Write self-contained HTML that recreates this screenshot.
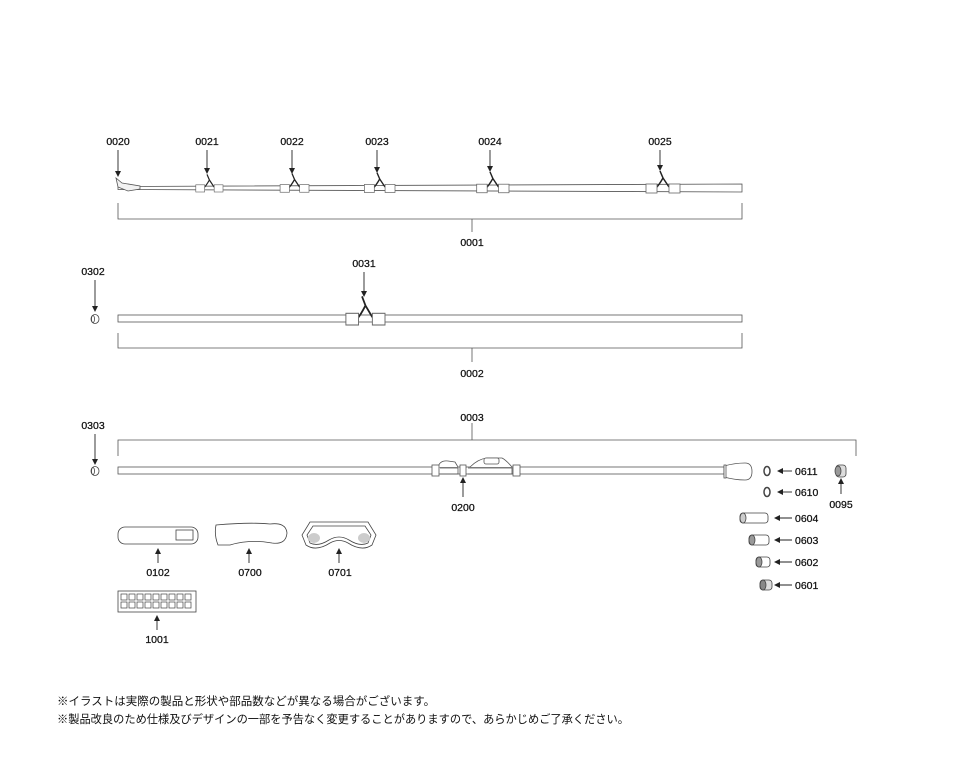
<!DOCTYPE html>
<html><head><meta charset="utf-8"><style>
html,body{margin:0;padding:0;background:#fff;}
svg{display:block;}
text{font-family:"Liberation Sans","Noto Sans CJK JP",sans-serif;fill:#111;}
.l{font-size:10.5px;text-anchor:middle;stroke:#111;stroke-width:0.25;}
.r{font-size:10.5px;stroke:#111;stroke-width:0.25;}
.j{font-size:11.5px;}
</style></head><body>
<svg width="963" height="781" viewBox="0 0 963 781" xmlns="http://www.w3.org/2000/svg">
<defs>
<marker id="ah" markerWidth="6" markerHeight="6" refX="5" refY="3" orient="auto" markerUnits="userSpaceOnUse">
<path d="M0,0 L6,3 L0,6 Z" fill="#222"/></marker>
<g id="guide">
<path d="M0,-17 L3,-10 Q-1,-3 -4,0 M3,-10 L9,-1" stroke="#222" stroke-width="1.5" fill="none"/>
<rect x="-14" y="-4" width="11" height="9" fill="#fff" stroke="#666" stroke-width="0.8"/>
<rect x="9" y="-4" width="11" height="9" fill="#fff" stroke="#666" stroke-width="0.8"/>
</g>
</defs>
<g stroke="#555" stroke-width="0.8" fill="none">
<path d="M118,186.5 L742,184 L742,192 L118,189.5 Z" fill="#fff"/>
<path d="M116,178 L118,187 L128,191 L140,189 L140,186 L122,183 Z" fill="#f2f2f2"/>
<path d="M118,203 V219 H742 V203 M472,219 V232"/>
<rect x="118" y="315" width="624" height="7" fill="#fff"/>
<path d="M118,333 V348 H742 V333 M472,348 V362"/>
<path d="M472,423 V440 M118,456 V440 H856 V456"/>
<rect x="118" y="467" width="606" height="7" fill="#fff"/>
<path d="M724,466 Q735,463 745,463 Q752,463 752,471.5 Q752,480 745,480 Q735,480 724,477 Z" fill="#fff"/>
<rect x="724" y="465" width="2" height="13" fill="#fff"/>
<path d="M438,467 Q440,460 448,461 L455,462 L458,467 M470,467 Q478,459 487,458 L502,458 Q506,460 512,467" fill="#fff"/>
<rect x="484" y="458" width="15" height="6" rx="2" fill="#fff"/>
<path d="M440,468 H458 V474 H440 M468,468 H512 V474 H468"/>
<rect x="432" y="465" width="7" height="11" fill="#fff"/>
<rect x="460" y="465" width="6" height="11" fill="#fff"/>
<rect x="513" y="465" width="7" height="11" fill="#fff"/>
</g>
<g stroke="#555" stroke-width="0.8">
<use href="#guide" transform="translate(207,188) scale(0.8)"/>
<use href="#guide" transform="translate(292,188) scale(0.85)"/>
<use href="#guide" transform="translate(377,188) scale(0.9)"/>
<use href="#guide" transform="translate(490,188) scale(0.95)"/>
<use href="#guide" transform="translate(660,188)"/>
<use href="#guide" transform="translate(362,318.5) scale(1.15,1.3)"/>
</g>
<g stroke="#222" stroke-width="0.9" marker-end="url(#ah)">
<line x1="118" y1="150" x2="118" y2="176"/>
<line x1="207" y1="150" x2="207" y2="173"/>
<line x1="292" y1="150" x2="292" y2="173"/>
<line x1="377" y1="150" x2="377" y2="172"/>
<line x1="490" y1="150" x2="490" y2="171"/>
<line x1="660" y1="150" x2="660" y2="170"/>
<line x1="364" y1="272" x2="364" y2="296"/>
<line x1="95" y1="280" x2="95" y2="311"/>
<line x1="95" y1="434" x2="95" y2="464"/>
<line x1="463" y1="497" x2="463" y2="478"/>
<line x1="841" y1="494" x2="841" y2="479"/>
<line x1="158" y1="563" x2="158" y2="549"/>
<line x1="249" y1="563" x2="249" y2="549"/>
<line x1="339" y1="563" x2="339" y2="549"/>
<line x1="157" y1="630" x2="157" y2="616"/>
<line x1="792" y1="471" x2="778" y2="471"/>
<line x1="792" y1="492" x2="778" y2="492"/>
<line x1="792" y1="518" x2="775" y2="518"/>
<line x1="792" y1="540" x2="775" y2="540"/>
<line x1="792" y1="562" x2="775" y2="562"/>
<line x1="792" y1="585" x2="775" y2="585"/>
</g>
<g stroke="#444" stroke-width="0.8" fill="#fff">
<ellipse cx="95" cy="319" rx="4" ry="4.5"/><ellipse cx="93" cy="319" rx="1.5" ry="3.5"/>
<ellipse cx="95" cy="471" rx="4" ry="4.5"/><ellipse cx="93" cy="471" rx="1.5" ry="3.5"/>
<ellipse cx="767" cy="471" rx="3" ry="4.5" stroke-width="1.5"/>
<ellipse cx="767" cy="492" rx="3" ry="4.5" stroke-width="1.5"/>
<rect x="836" y="465" width="10" height="12" rx="3" fill="#ddd"/>
<ellipse cx="838" cy="471" rx="3" ry="5" fill="#999"/>
<rect x="740" y="513" width="28" height="10" rx="3"/>
<ellipse cx="743" cy="518" rx="3" ry="5" fill="#ccc"/>
<rect x="749" y="535" width="20" height="10" rx="3"/>
<ellipse cx="752" cy="540" rx="3" ry="5" fill="#999"/>
<rect x="756" y="557" width="14" height="10" rx="3"/>
<ellipse cx="759" cy="562" rx="3" ry="5" fill="#999"/>
<rect x="760" y="580" width="12" height="10" rx="3" fill="#ddd"/>
<ellipse cx="763" cy="585" rx="3" ry="5" fill="#888"/>
<rect x="118" y="527" width="80" height="17" rx="7"/>
<rect x="176" y="530" width="17" height="10"/>
<path d="M216,525 Q250,522 270,524 Q286,522 287,533 Q286,545 272,543 Q250,539 230,545 L218,545 Q214,535 216,525 Z"/>
<path d="M310,522 H368 L376,535 L372,545 Q362,552 348,543 Q339,538 330,543 Q316,552 306,545 L302,535 Z"/>
<path d="M313,526 H365 L371,535 L368,543 Q360,547 349,540 Q339,534 329,540 Q318,547 310,543 L307,535 Z"/>
<ellipse cx="314" cy="538" rx="6" ry="5" fill="#ccc" stroke="none"/>
<ellipse cx="364" cy="538" rx="6" ry="5" fill="#ccc" stroke="none"/>
<rect x="118" y="591" width="78" height="21"/>
</g>
<g stroke="#444" stroke-width="0.7" fill="#fff">
<rect x="121" y="594" width="6" height="6"/><rect x="129" y="594" width="6" height="6"/><rect x="137" y="594" width="6" height="6"/><rect x="145" y="594" width="6" height="6"/><rect x="153" y="594" width="6" height="6"/><rect x="161" y="594" width="6" height="6"/><rect x="169" y="594" width="6" height="6"/><rect x="177" y="594" width="6" height="6"/><rect x="185" y="594" width="6" height="6"/>
<rect x="121" y="602" width="6" height="6"/><rect x="129" y="602" width="6" height="6"/><rect x="137" y="602" width="6" height="6"/><rect x="145" y="602" width="6" height="6"/><rect x="153" y="602" width="6" height="6"/><rect x="161" y="602" width="6" height="6"/><rect x="169" y="602" width="6" height="6"/><rect x="177" y="602" width="6" height="6"/><rect x="185" y="602" width="6" height="6"/>
</g>
<text class="l" x="118" y="145">0020</text>
<text class="l" x="207" y="145">0021</text>
<text class="l" x="292" y="145">0022</text>
<text class="l" x="377" y="145">0023</text>
<text class="l" x="490" y="145">0024</text>
<text class="l" x="660" y="145">0025</text>
<text class="l" x="472" y="246">0001</text>
<text class="l" x="364" y="267">0031</text>
<text class="l" x="93" y="275">0302</text>
<text class="l" x="472" y="377">0002</text>
<text class="l" x="472" y="421">0003</text>
<text class="l" x="93" y="429">0303</text>
<text class="l" x="463" y="511">0200</text>
<text class="l" x="841" y="508">0095</text>
<text class="l" x="158" y="576">0102</text>
<text class="l" x="250" y="576">0700</text>
<text class="l" x="340" y="576">0701</text>
<text class="l" x="157" y="643">1001</text>
<text class="r" x="795" y="475">0611</text>
<text class="r" x="795" y="496">0610</text>
<text class="r" x="795" y="522">0604</text>
<text class="r" x="795" y="544">0603</text>
<text class="r" x="795" y="566">0602</text>
<text class="r" x="795" y="589">0601</text>
<text class="j" x="57" y="705">※イラストは実際の製品と形状や部品数などが異なる場合がございます。</text>
<text class="j" x="57" y="723" textLength="572" lengthAdjust="spacingAndGlyphs">※製品改良のため仕様及びデザインの一部を予告なく変更することがありますので、あらかじめご了承ください。</text>
</svg>
</body></html>
